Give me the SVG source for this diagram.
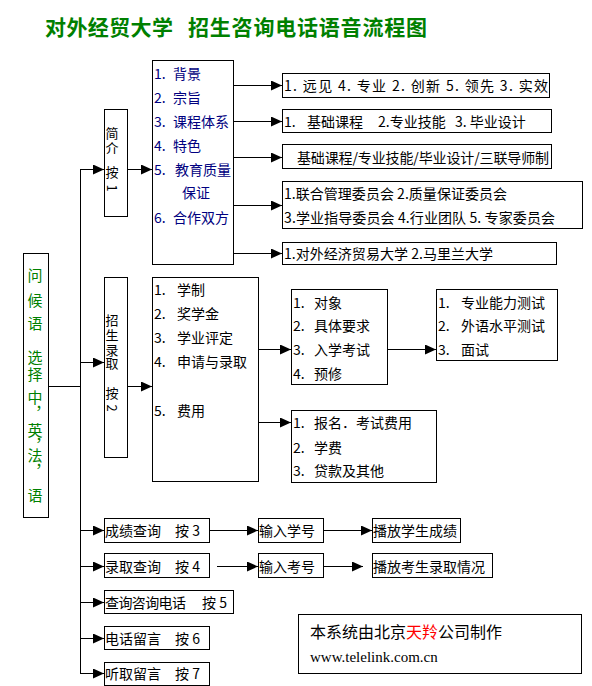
<svg xmlns="http://www.w3.org/2000/svg" width="592" height="686" viewBox="0 0 592 686">
<style>
  .box { fill: #fff; stroke: #000; stroke-width: 1; shape-rendering: crispEdges; }
  .ln { stroke: #000; stroke-width: 1; fill: none; shape-rendering: crispEdges; }
  .ar { stroke: #000; stroke-width: 1; fill: none; marker-end: url(#ah); shape-rendering: crispEdges; }
  text { font-family: "Noto Sans CJK SC", "Noto Sans", sans-serif; font-size: 14px; dominant-baseline: central; fill: #000; }
  .blue { fill: #000080; }
  .title { font-size: 21px; font-weight: bold; fill: #008000; }
  .vt { writing-mode: vertical-rl; font-size: 13px; }
  .g { writing-mode: vertical-rl; font-size: 15px; fill: #008000; }
  .red { fill: #ff0000; }
  .url { font-family: "Liberation Serif", serif; font-size: 15px; }
</style>
<defs>
  <marker id="ah" markerUnits="userSpaceOnUse" markerWidth="11" markerHeight="10" viewBox="0 0 11 10" refX="11" refY="5" orient="auto">
    <path d="M0,0 L11,5 L0,10 z" fill="#000"/>
  </marker>
</defs>
<rect width="592" height="686" fill="#fff"/>

<g id="title">
  <text class="title" x="45" y="26" textLength="128" lengthAdjust="spacing">对外经贸大学</text>
  <text class="title" x="188" y="26" textLength="239" lengthAdjust="spacing">招生咨询电话语音流程图</text>
</g>

<g id="connectors">
  <line class="ln" x1="80.5" y1="169" x2="80.5" y2="673.5"/>
  <line class="ln" x1="48" y1="386.5" x2="80.5" y2="386.5"/>
  <line class="ar" x1="80.5" y1="169.5" x2="104" y2="169.5"/>
  <line class="ar" x1="127" y1="169.5" x2="152" y2="169.5"/>
  <line class="ar" x1="233" y1="85.5" x2="282" y2="85.5"/>
  <line class="ar" x1="233" y1="121.5" x2="282" y2="121.5"/>
  <line class="ar" x1="233" y1="157.5" x2="282" y2="157.5"/>
  <line class="ar" x1="233" y1="205.5" x2="282" y2="205.5"/>
  <line class="ar" x1="233" y1="253.5" x2="282" y2="253.5"/>
  <line class="ar" x1="80.5" y1="362.5" x2="104" y2="362.5"/>
  <line class="ar" x1="127" y1="386.5" x2="152" y2="386.5"/>
  <line class="ar" x1="258" y1="349.5" x2="291" y2="349.5"/>
  <line class="ar" x1="258" y1="422.5" x2="291" y2="422.5"/>
  <line class="ar" x1="387" y1="349.5" x2="436" y2="349.5"/>
  <line class="ar" x1="80.5" y1="530.5" x2="104" y2="530.5"/>
  <line class="ar" x1="80.5" y1="566.5" x2="104" y2="566.5"/>
  <line class="ar" x1="80.5" y1="602.5" x2="104" y2="602.5"/>
  <line class="ar" x1="80.5" y1="638.5" x2="104" y2="638.5"/>
  <line class="ar" x1="80.5" y1="673.5" x2="104" y2="673.5"/>
  <line class="ar" x1="209" y1="530.5" x2="258" y2="530.5"/>
  <line class="ar" x1="323" y1="530.5" x2="372" y2="530.5"/>
  <line class="ar" x1="217" y1="566.5" x2="258" y2="566.5"/>
  <line class="ar" x1="323" y1="566.5" x2="363" y2="566.5"/>
</g>

<g id="greeting">
  <rect class="box" x="23.5" y="253.5" width="25" height="264"/>
  <text class="g" x="35"><tspan y="267.5">问</tspan><tspan y="292.5">候</tspan><tspan y="315.5">语</tspan><tspan y="349.5">选</tspan><tspan y="366.5">择</tspan><tspan y="389.5">中</tspan><tspan y="406">，</tspan><tspan y="422.5">英</tspan><tspan y="438">，</tspan><tspan y="447.5">法</tspan><tspan y="464">，</tspan><tspan y="487.5">语</tspan></text>
</g>

<g id="intro">
  <rect class="box" x="104.5" y="109.5" width="23" height="107"/>
  <text class="vt" x="112"><tspan y="126.5">简</tspan><tspan y="141.5">介</tspan><tspan y="165.5">按</tspan><tspan y="184.5">1</tspan></text>
</g>

<g id="intro-list">
  <rect class="box" x="152.5" y="60.5" width="81" height="204"/>
  <text class="blue" x="154" y="73">1.</text><text class="blue" x="173" y="73">背景</text>
  <text class="blue" x="154" y="97">2.</text><text class="blue" x="173" y="97">宗旨</text>
  <text class="blue" x="154" y="121">3.</text><text class="blue" x="173" y="121">课程体系</text>
  <text class="blue" x="154" y="145">4.</text><text class="blue" x="173" y="145">特色</text>
  <text class="blue" x="154" y="169">5.</text><text class="blue" x="175" y="169">教育质量</text>
  <text class="blue" x="182" y="192">保证</text>
  <text class="blue" x="154" y="217">6.</text><text class="blue" x="173" y="217">合作双方</text>
</g>

<g id="box-a">
  <rect class="box" x="282.5" y="73.5" width="267" height="24"/>
  <text x="284" y="85" textLength="264" lengthAdjust="spacing">1.  远见 4.  专业 2.  创新 5.  领先 3.  实效</text>
</g>
<g id="box-b">
  <rect class="box" x="282.5" y="109.5" width="269" height="23"/>
  <text x="284" y="121">1.</text>
  <text x="307" y="121">基础课程</text>
  <text x="378" y="121">2.专业技能</text>
  <text x="455" y="121">3. 毕业设计</text>
</g>
<g id="box-c">
  <rect class="box" x="282.5" y="144.5" width="269" height="24"/>
  <text x="297" y="157" textLength="252" lengthAdjust="spacing">基础课程/专业技能/毕业设计/三联导师制</text>
</g>
<g id="box-d">
  <rect class="box" x="282.5" y="181.5" width="300" height="47"/>
  <text x="284" y="193" textLength="223" lengthAdjust="spacing">1.联合管理委员会  2.质量保证委员会</text>
  <text x="284" y="217" textLength="271" lengthAdjust="spacing">3.学业指导委员会  4.行业团队 5.  专家委员会</text>
</g>
<g id="box-e">
  <rect class="box" x="282.5" y="242.5" width="274" height="22"/>
  <text x="284" y="253" textLength="209" lengthAdjust="spacing">1.对外经济贸易大学  2.马里兰大学</text>
</g>

<g id="admission">
  <rect class="box" x="104.5" y="277.5" width="23" height="180"/>
  <text class="vt" x="112"><tspan y="313.5">招</tspan><tspan y="328.5">生</tspan><tspan y="343.5">录</tspan><tspan y="356.5">取</tspan><tspan y="386.5">按</tspan><tspan y="404.5">2</tspan></text>
</g>

<g id="admission-list">
  <rect class="box" x="152.5" y="277.5" width="106" height="204"/>
  <text x="154" y="289">1.</text><text x="177" y="289">学制</text>
  <text x="154" y="313">2.</text><text x="177" y="313">奖学金</text>
  <text x="154" y="337">3.</text><text x="177" y="337">学业评定</text>
  <text x="154" y="361">4.</text><text x="177" y="361">申请与录取</text>
  <text x="154" y="410">5.</text><text x="177" y="410">费用</text>
</g>

<g id="box-f">
  <rect class="box" x="291.5" y="289.5" width="96" height="95"/>
  <text x="293" y="302">1.</text><text x="314" y="302">对象</text>
  <text x="293" y="325">2.</text><text x="314" y="325">具体要求</text>
  <text x="293" y="349">3.</text><text x="314" y="349">入学考试</text>
  <text x="293" y="373">4.</text><text x="314" y="373">预修</text>
</g>
<g id="box-g">
  <rect class="box" x="436.5" y="289.5" width="121" height="71"/>
  <text x="438" y="302">1.</text><text x="461" y="302">专业能力测试</text>
  <text x="438" y="325">2.</text><text x="461" y="325">外语水平测试</text>
  <text x="438" y="349">3.</text><text x="461" y="349">面试</text>
</g>
<g id="box-h">
  <rect class="box" x="291.5" y="410.5" width="145" height="72"/>
  <text x="293" y="422">1.</text><text x="314" y="422">报名．考试费用</text>
  <text x="293" y="447">2.</text><text x="314" y="447">学费</text>
  <text x="293" y="470">3.</text><text x="314" y="470">贷款及其他</text>
</g>

<g id="score-query">
  <rect class="box" x="104.5" y="518.5" width="105" height="24"/>
  <text x="105" y="530">成绩查询</text><text x="175" y="530">按 3</text>
</g>
<g id="admit-query">
  <rect class="box" x="104.5" y="553.5" width="105" height="24"/>
  <text x="105" y="566">录取查询</text><text x="175" y="566">按 4</text>
</g>
<g id="phone-query">
  <rect class="box" x="104.5" y="590.5" width="129" height="23"/>
  <text x="105" y="602" textLength="81" lengthAdjust="spacing">查询咨询电话</text><text x="202" y="602">按 5</text>
</g>
<g id="leave-msg">
  <rect class="box" x="104.5" y="626.5" width="105" height="23"/>
  <text x="105" y="638">电话留言</text><text x="175" y="638">按 6</text>
</g>
<g id="listen-msg">
  <rect class="box" x="104.5" y="662.5" width="105" height="23"/>
  <text x="105" y="673">听取留言</text><text x="175" y="673">按 7</text>
</g>

<g id="input-student">
  <rect class="box" x="258.5" y="518.5" width="65" height="24"/>
  <text x="259" y="530">输入学号</text>
</g>
<g id="play-score">
  <rect class="box" x="372.5" y="518.5" width="88" height="24"/>
  <text x="373" y="530">播放学生成绩</text>
</g>
<g id="input-exam">
  <rect class="box" x="258.5" y="553.5" width="65" height="24"/>
  <text x="259" y="566">输入考号</text>
</g>
<g id="play-admit">
  <rect class="box" x="372.5" y="553.5" width="120" height="24"/>
  <text x="373" y="566">播放考生录取情况</text>
</g>

<g id="company">
  <rect class="box" x="298.5" y="614.5" width="283" height="59"/>
  <text x="310" y="631" style="font-size:16px">本系统由北京<tspan class="red">天羚</tspan>公司制作</text>
  <text class="url" x="310" y="657">www.telelink.com.cn</text>
</g>
</svg>
